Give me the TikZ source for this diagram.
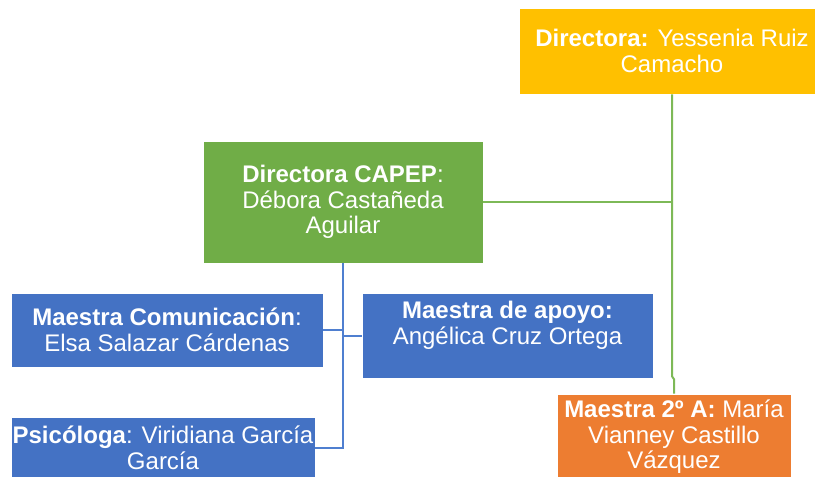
\documentclass[tikz,border=0pt]{standalone}
\usepackage{fontspec}
\setmainfont{Liberation Sans}
\usetikzlibrary{positioning}
\definecolor{amarillo}{HTML}{FFC000}
\definecolor{verde}{HTML}{70AD47}
\definecolor{azul}{HTML}{4472C4}
\definecolor{naranja}{HTML}{ED7D31}
\definecolor{verdelinea}{HTML}{7DB957}
\definecolor{azullinea}{HTML}{4F7FD0}

\begin{document}
\begin{tikzpicture}[x=1pt,y=-1pt,
    every node/.style={rectangle,draw=white,line width=0.6pt,inner sep=0pt,align=center,
        text=white,font=\fontsize{24}{25.5}\selectfont},
    linea/.style={line width=2pt,#1}]
    % marco de la imagen
    \useasboundingbox (0,0) rectangle (815,477);
    \clip (0,0) rectangle (815,477);
    % cajas
    \node[fill=amarillo,minimum width=306pt,minimum height=86pt] (dir) at (672,51)
        {\textbf{Directora:} Yessenia Ruiz\\Camacho};
    \node[fill=verde,minimum width=280pt,minimum height=122pt] (capep) at (343,202)
        {\textbf{Directora CAPEP}:\\Débora Castañeda\\Aguilar};
    \node[fill=azul,minimum width=312pt,minimum height=74pt] (com) at (167,330)
        {\textbf{Maestra Comunicación}:\\Elsa Salazar Cárdenas};
    \node[fill=azul,minimum width=291pt,minimum height=85pt] (apoyo) at (507.5,335.5)
        {\textbf{Maestra de apoyo:}\\Angélica Cruz Ortega\\\mbox{}};
    \node[fill=azul,minimum width=304pt,minimum height=62pt] (psi) at (163,448)
        {\textbf{Psicóloga}: Viridiana García\\García};
    \node[fill=naranja,minimum width=234pt,minimum height=86pt] (ma2) at (674,437)
        {\textbf{Maestra 2º A:} María\\Vianney Castillo\\Vázquez};
    % lineas verdes
    \draw[linea=verdelinea] (dir.south) -- ++(0,282) -- ++(2,3) -- (ma2.north);
    \draw[linea=verdelinea] (capep.east) -- (capep.east -| dir.south);
    % lineas azules
    \draw[linea=azullinea] (capep.south) |- (psi.east);
    \draw[linea=azullinea] (com.east) -- (com.east -| capep.south);
    \draw[linea=azullinea] (apoyo.west) -- (apoyo.west -| capep.south);
\end{tikzpicture}
\end{document}
